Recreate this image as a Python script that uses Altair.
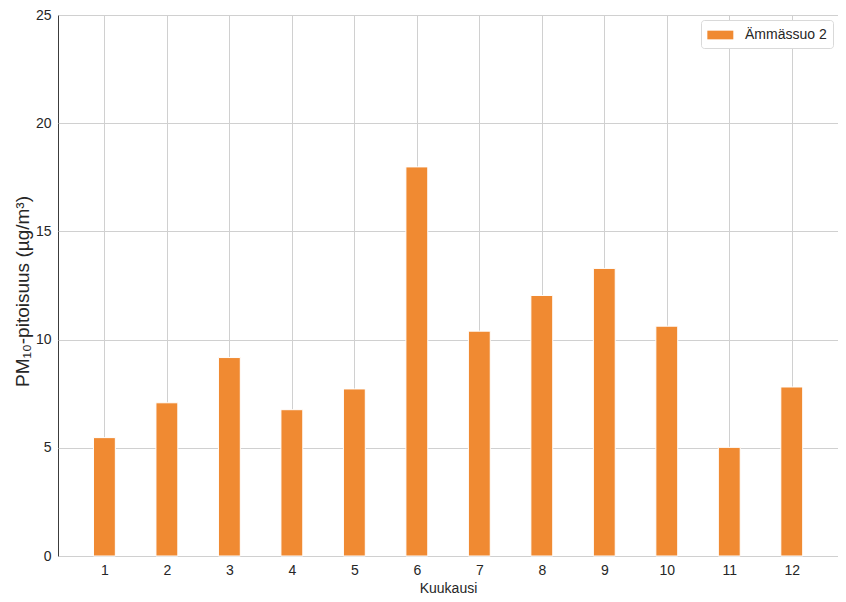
import altair as alt
import pandas as pd

months = [1, 2, 3, 4, 5, 6, 7, 8, 9, 10, 11, 12]
values = [5.47, 7.08, 9.17, 6.76, 7.72, 17.98, 10.39, 12.04, 13.29, 10.62, 5.02, 7.81]
series = "Ämmässuo 2"
bar_color = "#f08a32"

df = pd.DataFrame({"month": months, "value": values, "station": [series] * len(months)})

bars = alt.Chart(df).transform_calculate(
    x1="datum.month - 0.175", x2="datum.month + 0.175"
).mark_bar(stroke="white", strokeWidth=1).encode(
    x=alt.X("x1:Q", scale=alt.Scale(domain=[0.2575, 12.74], nice=False, zero=False),
            axis=alt.Axis(values=months, title="Kuukausi", format="d")),
    x2="x2:Q",
    y=alt.Y("value:Q", scale=alt.Scale(domain=[0, 25], nice=False),
            axis=alt.Axis(values=[0, 5, 10, 15, 20, 25], title="PM₁₀-pitoisuus (µg/m³)")),
    y2=alt.datum(0),
    fill=alt.Fill("station:N", scale=alt.Scale(range=[bar_color]),
                  legend=alt.Legend(title=None, orient="top-right",
                                    symbolType="M-1,-0.5H2V0.5H-1Z", symbolSize=300,
                                    symbolStrokeWidth=0,
                                    labelFontSize=14, labelColor="#262626", labelOffset=20,
                                    padding=6, offset=5,
                                    strokeColor="#d9d9d9", cornerRadius=3, fillColor="white")),
)

chart = bars.properties(
    width=780, height=541,
    autosize=alt.AutoSizeParams(type="none"),
    padding={"left": 50, "top": 7, "right": 0, "bottom": 38},
).configure_view(
    stroke="#3c3c3c", strokeWidth=1
).configure_axis(
    domain=False, ticks=False, grid=True, gridColor="#d0d0d0", gridWidth=1,
    labelFont="Liberation Sans", titleFont="Liberation Sans",
    labelFontSize=14, labelColor="#262626", titleColor="#262626",
    labelPadding=7, titleFontWeight="normal",
).configure_axisX(
    titleFontSize=14, titlePadding=4,
).configure_axisY(
    titleFontSize=19, titlePadding=3, titleY=276,
).configure_legend(
    labelFont="Liberation Sans"
)

chart.save("out.html", embed_options={"renderer": "svg", "actions": False})
